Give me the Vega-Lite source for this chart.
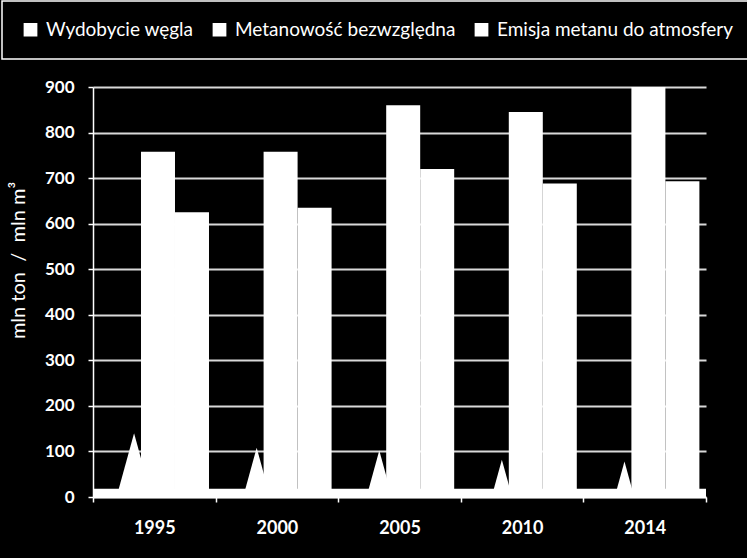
{
  "$schema": "https://vega.github.io/schema/vega-lite/v6.json",
  "width": 613,
  "height": 410,
  "autosize": {"type": "none"},
  "padding": {"left": 93, "top": 87, "right": 41, "bottom": 61},
  "background": "black",
  "config": {
    "view": {"stroke": null},
    "font": "Lato",
    "legend": {
      "orient": "none",
      "legendX": -91,
      "legendY": -86,
      "direction": "horizontal",
      "symbolType": "square",
      "symbolFillColor": "white",
      "symbolStrokeColor": "white",
      "symbolOpacity": 1,
      "symbolSize": 150,
      "labelColor": "white",
      "labelFontSize": 19,
      "labelFont": "Lato",
      "strokeColor": "white",
      "strokeWidth": 1.5,
      "fillColor": "black",
      "padding": 19,
      "columnPadding": 16,
      "labelOffset": 6,
      "labelLimit": 400
    }
  },
  "resolve": {"scale": {"xOffset": "independent"}},
  "data": {
    "values": [
      {"rok": "1995", "seria": "Wydobycie węgla", "wartosc": 140},
      {"rok": "2000", "seria": "Wydobycie węgla", "wartosc": 108},
      {"rok": "2005", "seria": "Wydobycie węgla", "wartosc": 102},
      {"rok": "2010", "seria": "Wydobycie węgla", "wartosc": 82},
      {"rok": "2014", "seria": "Wydobycie węgla", "wartosc": 78},
      {"rok": "1995", "seria": "Metanowość bezwzględna", "wartosc": 758},
      {"rok": "2000", "seria": "Metanowość bezwzględna", "wartosc": 758},
      {"rok": "2005", "seria": "Metanowość bezwzględna", "wartosc": 860},
      {"rok": "2010", "seria": "Metanowość bezwzględna", "wartosc": 845},
      {"rok": "2014", "seria": "Metanowość bezwzględna", "wartosc": 900},
      {"rok": "1995", "seria": "Emisja metanu do atmosfery", "wartosc": 625},
      {"rok": "2000", "seria": "Emisja metanu do atmosfery", "wartosc": 635},
      {"rok": "2005", "seria": "Emisja metanu do atmosfery", "wartosc": 720},
      {"rok": "2010", "seria": "Emisja metanu do atmosfery", "wartosc": 688},
      {"rok": "2014", "seria": "Emisja metanu do atmosfery", "wartosc": 693}
    ]
  },
  "layer": [
    {
      "transform": [{"filter": "datum.seria !== 'Wydobycie węgla'"}],
      "mark": {"type": "bar", "fill": "white", "stroke": null, "opacity": 1},
      "encoding": {
        "x": {
          "field": "rok",
          "type": "nominal",
          "sort": null,
          "scale": {"paddingInner": 0, "paddingOuter": 0},
          "axis": {
            "title": null,
            "labelAngle": 0,
            "labelColor": "white",
            "labelFont": "Lato",
            "labelFontSize": 18,
            "labelFontWeight": "bold",
            "labelPadding": 17,
            "tickBand": "extent",
            "tickColor": "white",
            "tickSize": 5,
            "tickWidth": 1.5,
            "domainColor": "white",
            "domainWidth": 1.5,
            "grid": false
          }
        },
        "xOffset": {
          "field": "seria",
          "type": "nominal",
          "scale": {"domain": ["Metanowość bezwzględna", "Emisja metanu do atmosfery"], "paddingInner": 0, "paddingOuter": 0.803, "align": 0.879}
        },
        "y": {
          "field": "wartosc",
          "type": "quantitative",
          "scale": {"domain": [0, 900], "nice": false},
          "axis": {
            "values": [0, 100, 200, 300, 400, 500, 600, 700, 800, 900],
            "title": "mln ton\u00a0 /\u00a0 mln m³",
            "titleColor": "white",
            "titleFont": "Lato",
            "titleFontSize": 20,
            "titleFontWeight": "normal",
            "titleX": -75,
            "titleY": 173,
            "titleAngle": -90,
            "titleAlign": "center",
            "titleBaseline": "middle",
            "labelColor": "white",
            "labelFont": "Lato",
            "labelFontSize": 17,
            "labelFontWeight": "bold",
            "labelPadding": 14,
            "tickColor": "white",
            "tickSize": 5,
            "tickWidth": 1.5,
            "domainColor": "white",
            "domainWidth": 1.5,
            "grid": true,
            "gridColor": "#d9d9d9",
            "gridWidth": 2
          }
        },
        "color": {
          "field": "seria",
          "type": "nominal",
          "scale": {"domain": ["Wydobycie węgla", "Metanowość bezwzględna", "Emisja metanu do atmosfery"], "range": ["white", "white", "white"]},
          "legend": {"title": null}
        }
      }
    },
    {
      "transform": [{"filter": "datum.seria === 'Wydobycie węgla'"}],
      "mark": {"type": "point", "filled": true, "opacity": 1, "shape": "M0,0L0.55,2L-0.55,2Z", "strokeWidth": 0},
      "encoding": {
        "x": {"field": "rok", "type": "nominal", "sort": null},
        "xOffset": {
          "field": "seria",
          "type": "nominal",
          "scale": {"domain": ["Wydobycie węgla"], "paddingInner": 0, "paddingOuter": 1.543, "align": 0.335}
        },
        "y": {"field": "wartosc", "type": "quantitative"},
        "size": {
          "field": "wartosc",
          "type": "quantitative",
          "scale": {"type": "pow", "exponent": 2, "domain": [0, 900], "range": [0, 168100]},
          "legend": null
        },
        "color": {"field": "seria", "type": "nominal", "legend": {"title": null}}
      }
    },
    {
      "data": {"values": [{}]},
      "mark": {"type": "rect", "fill": "white"},
      "encoding": {
        "x": {"value": 0},
        "x2": {"value": "width"},
        "y": {"datum": 0, "type": "quantitative"},
        "y2": {"datum": 18}
      }
    }
  ]
}
